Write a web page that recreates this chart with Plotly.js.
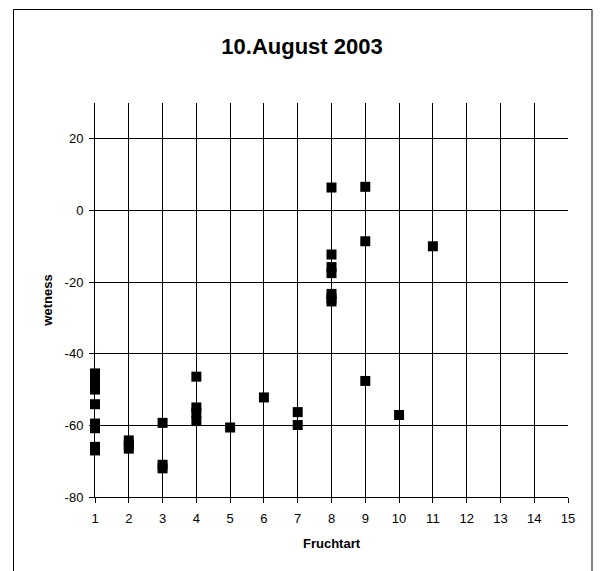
<!DOCTYPE html>
<html>
<head>
<meta charset="utf-8">
<script src="https://cdn.plot.ly/plotly-3.0.1.min.js"></script>
<style>html,body{margin:0;padding:0;background:#fff;}#chart{width:604px;height:571px;}</style>
</head>
<body>
<div id="chart"></div>
<script>
// Fruchtart (crop type) of each observation
const fruchtart = [
  1, 1, 1, 1, 1, 1, 1, 1, 1,
  2, 2, 2,
  3, 3, 3,
  4, 4, 4, 4,
  5,
  6,
  7, 7,
  8, 8, 8, 8, 8, 8, 8,
  9, 9, 9,
  10,
  11
];
// wetness of each observation
const wetness = [
  -45.5, -47, -48.5, -50, -54.1, -59.5, -60.8, -66, -67,
  -64.2, -65.5, -66.5,
  -59.3, -71, -72,
  -46.4, -55, -56.5, -58.8,
  -60.6,
  -52.2,
  -56.3, -59.9,
  6.4, -12.3, -15.8, -17.5, -23.3, -24.5, -25.4,
  6.6, -8.6, -47.6,
  -57.1,
  -10.0
];
const xTicks = [1,2,3,4,5,6,7,8,9,10,11,12,13,14,15];
const yTicks = [-80,-60,-40,-20,0,20];

const font = 'Liberation Sans, Arial, sans-serif';
Plotly.newPlot('chart', [{
  type: 'scatter', mode: 'markers',
  x: fruchtart, y: wetness,
  marker: {symbol: 'square', size: 10, color: '#000'},
  cliponaxis: false,
  hoverinfo: 'x+y'
}], {
  width: 604, height: 571,
  margin: {l: 95, r: 36, t: 103, b: 74},
  paper_bgcolor: '#fff', plot_bgcolor: '#fff',
  font: {family: font, size: 13, color: '#000'},
  showlegend: false,
  title: {text: '<b>10.August 2003</b>', font: {family: font, size: 22, color: '#000'},
          x: 0.5, xanchor: 'center', y: 1 - 46/571, yanchor: 'middle'},
  xaxis: {
    range: [1, 15], tickvals: xTicks, ticktext: xTicks.map(String),
    showgrid: true, gridcolor: '#000', gridwidth: 1,
    zeroline: false, showline: true, linecolor: '#000', linewidth: 1,
    ticks: 'outside', ticklen: 5, tickcolor: '#000', ticklabelstandoff: 4,
    tickfont: {family: font, size: 13, color: '#000'},
    title: {text: '<b>Fruchtart</b>', font: {family: font, size: 13, color: '#000'}, standoff: 14}
  },
  yaxis: {
    range: [-80, 30], tickvals: yTicks, ticktext: yTicks.map(String),
    showgrid: true, gridcolor: '#000', gridwidth: 1,
    zeroline: false, showline: true, linecolor: '#000', linewidth: 1,
    ticks: 'outside', ticklen: 5, tickcolor: '#000', ticklabelstandoff: 3,
    tickfont: {family: font, size: 13, color: '#000'},
    title: {text: '<b>wetness</b>', font: {family: font, size: 13, color: '#000'}, standoff: 9}
  },
  shapes: [{
    type: 'rect', xref: 'paper', yref: 'paper',
    x0: (13.5 - 95) / 473, x1: (592 - 95) / 473,
    y0: -(80 / 394), y1: 1 + (93.5 / 394),
    line: {color: '#000', width: 1}, fillcolor: 'rgba(0,0,0,0)', layer: 'below'
  }]
}, {staticPlot: true});
</script>
</body>
</html>
